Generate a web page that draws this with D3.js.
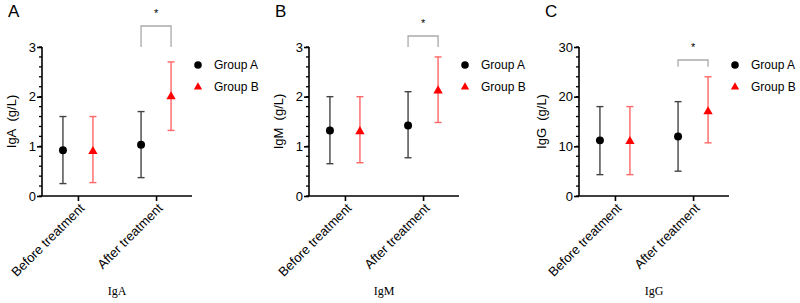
<!DOCTYPE html>
<html>
<head>
<meta charset="utf-8">
<title>Immunoglobulin panels</title>
<script src="https://d3js.org/d3.v7.min.js"></script>
<style>
  body{margin:0;background:#fff;}
  svg{display:block;}
</style>
</head>
<body>
<script>
var categories = ["Before treatment", "After treatment"];
var groups = ["Group A", "Group B"];
var panelNames = ["IgA", "IgM", "IgG"];
var panelLetters = ["A", "B", "C"];
var yMax = [3, 3, 30];
var yTicks = [[0,1,2,3],[0,1,2,3],[0,10,20,30]];
// mean, low, high  per panel -> category
var groupAMean = [[0.92, 1.03], [1.32, 1.42], [11.2, 12.0]];
var groupALow  = [[0.25, 0.37], [0.65, 0.77], [4.3, 5.0]];
var groupAHigh = [[1.6, 1.7],   [2.0, 2.1],   [18, 19]];
var groupBMean = [[0.9, 2.0],   [1.3, 2.12],  [11.0, 17.0]];
var groupBLow  = [[0.27, 1.32], [0.67, 1.48], [4.3, 10.7]];
var groupBHigh = [[1.6, 2.7],   [2.0, 2.8],   [18, 24]];
var sigLevel = [3, 3, 26];   // bottom of significance bracket legs

var svg = d3.select("body").append("svg").attr("width",800).attr("height",303);

var offsets = [42, 309, 579];
var sigTop = [26, 36, 60];
var titleX = [-26, -26, -33];
var yTop = 47, yBottom = 196, w = 150;
var colA = "#000", colB = "#f00";
var barA = "#444", barB = "#f66";

panelNames.forEach(function(name, p){
  var g = svg.append("g").attr("transform","translate("+offsets[p]+",0)");
  var x = d3.scalePoint().domain(categories).range([0,w]).padding(0.46);
  var y = d3.scaleLinear().domain([0,yMax[p]]).range([yBottom, yTop]);

  // minor ticks
  var minor = d3.range(0, yMax[p]+1e-9, yMax[p]/15);
  g.selectAll(".minor").data(minor).enter().append("line")
    .attr("x1",-3).attr("x2",0)
    .attr("y1",d=>y(d)).attr("y2",d=>y(d))
    .attr("stroke","#000").attr("stroke-width",1.3);

  var yAxis = g.append("g").call(d3.axisLeft(y).tickValues(yTicks[p]).tickFormat(d3.format("d")).tickSize(5).tickPadding(1));
  yAxis.select(".domain").attr("stroke-width",1.6).attr("d","M0,"+yTop+"V"+yBottom);
  yAxis.selectAll(".tick line").attr("stroke-width",1.6);
  yAxis.selectAll("text").style("font","13px 'Liberation Sans', Arial, sans-serif").attr("fill","#000");

  var xAxis = g.append("g").attr("transform","translate(0,"+yBottom+")")
    .call(d3.axisBottom(x).tickSize(5).tickSizeOuter(0));
  xAxis.select(".domain").attr("stroke-width",1.6).attr("d","M0,0H"+w);
  xAxis.selectAll(".tick line").attr("stroke-width",1.6);
  xAxis.selectAll("text")
    .style("font","13px 'Liberation Sans', Arial, sans-serif").attr("fill","#000")
    .attr("text-anchor","end")
    .attr("transform","translate(0,6) rotate(-45)")
    .attr("x",0).attr("y",0).attr("dy","0.75em");

  var series = [
    {mean:groupAMean[p], low:groupALow[p], high:groupAHigh[p], dx:-15, c:colA, bc:barA, shape:"circle"},
    {mean:groupBMean[p], low:groupBLow[p], high:groupBHigh[p], dx:15, c:colB, bc:barB, shape:"triangle"}
  ];
  series.forEach(function(s){
    categories.forEach(function(cat, i){
      var cx = x(cat) + s.dx;
      g.append("line").attr("x1",cx).attr("x2",cx)
        .attr("y1",y(s.low[i])).attr("y2",y(s.high[i]))
        .attr("stroke",s.bc).attr("stroke-width",1.4);
      [s.low[i], s.high[i]].forEach(function(v){
        g.append("line").attr("x1",cx-3.5).attr("x2",cx+3.5)
          .attr("y1",y(v)).attr("y2",y(v))
          .attr("stroke",s.bc).attr("stroke-width",1.4);
      });
      g.append("path")
        .attr("d", d3.symbol().type(s.shape=="circle"?d3.symbolCircle:d3.symbolTriangle).size(s.shape=="circle"?50:38)())
        .attr("transform","translate("+cx+","+y(s.mean[i])+")")
        .attr("fill",s.c);
    });
  });

  // significance bracket
  var bx1 = x(categories[1]) - 15, bx2 = x(categories[1]) + 15, by = y(sigLevel[p]);
  g.append("path")
    .attr("d","M"+bx1+","+by+"V"+sigTop[p]+"H"+bx2+"V"+by)
    .attr("fill","none").attr("stroke","#aaa").attr("stroke-width",1.3);
  g.append("text").attr("x",(bx1+bx2)/2).attr("y",sigTop[p]-9)
    .attr("text-anchor","middle").style("font","11px 'Liberation Sans', Arial, sans-serif")
    .text("*");

  // legend
  var leg = g.selectAll(".leg").data(groups).enter().append("g")
    .attr("transform",(d,i)=>"translate("+(w+6)+","+(65+i*22)+")");
  leg.append("path")
    .attr("d",(d,i)=>d3.symbol().type(i==0?d3.symbolCircle:d3.symbolTriangle).size(i==0?45:30)())
    .attr("fill",(d,i)=>i==0?colA:colB);
  leg.append("text").attr("x",16).attr("dy","0.35em")
    .style("font","12px 'Liberation Sans', Arial, sans-serif").text(d=>d);

  // axis titles
  g.append("text")
    .attr("transform","translate("+titleX[p]+","+((yTop+yBottom)/2)+") rotate(-90)")
    .attr("text-anchor","middle")
    .style("font","13px 'Liberation Sans', Arial, sans-serif")
    .text(name+"\u00a0\u00a0(g/L)");
  g.append("text").attr("x",w/2).attr("y",295).attr("text-anchor","middle")
    .style("font","12px 'Liberation Serif', 'Times New Roman', serif")
    .text(name);
  g.append("text").attr("x",-34).attr("y",17)
    .style("font","17px 'Liberation Sans', Arial, sans-serif")
    .text(panelLetters[p]);
});
</script>
</body>
</html>
